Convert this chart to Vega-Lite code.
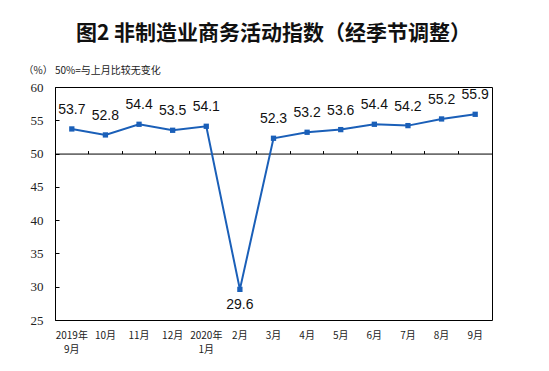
{
  "$schema": "https://vega.github.io/schema/vega-lite/v6.json",
  "width": 437,
  "height": 233,
  "autosize": "none",
  "padding": {"left": 55, "top": 87, "right": 57, "bottom": 51},
  "background": "white",
  "title": {
    "text": "图2  非制造业商务活动指数（经季节调整）",
    "font": "Noto Sans CJK SC",
    "fontSize": 21,
    "fontWeight": "bold",
    "color": "#111111",
    "anchor": "middle",
    "offset": 21
  },
  "config": {
    "view": {"stroke": "#000000", "strokeWidth": 1},
    "axis": {"grid": false},
    "axisY": {"labelOverlap": false, "labelFlush": false, "labelBound": false}
  },
  "data": {
    "values": [
      {"month": "2019年|9月", "v": 53.7},
      {"month": "10月", "v": 52.8},
      {"month": "11月", "v": 54.4},
      {"month": "12月", "v": 53.5},
      {"month": "2020年|1月", "v": 54.1},
      {"month": "2月", "v": 29.6},
      {"month": "3月", "v": 52.3},
      {"month": "4月", "v": 53.2},
      {"month": "5月", "v": 53.6},
      {"month": "6月", "v": 54.4},
      {"month": "7月", "v": 54.2},
      {"month": "8月", "v": 55.2},
      {"month": "9月", "v": 55.9}
    ]
  },
  "encoding": {
    "y": {"field": "v", "type": "quantitative",
      "scale": {"domain": [25, 60], "nice": false, "zero": false},
      "axis": {"values": [25, 30, 35, 40, 45, 50, 55, 60], "domain": true, "domainColor": "#000000",
        "tickSize": -4, "tickColor": "#000000", "labelPadding": 16, "labelOverlap": false,
        "labelFont": "Liberation Serif", "labelFontSize": 13, "labelColor": "#222222",
        "title": "（%）       50%=与上月比较无变化", "titleAngle": 0, "titleAlign": "left",
        "titleBaseline": "middle", "titleX": -32, "titleY": -17,
        "titleFont": "Noto Sans CJK SC", "titleFontSize": 10, "titleFontWeight": "normal", "titleColor": "#222222"}}
  },
  "resolve": {"axis": {"x": "independent"}},
  "layer": [
    {
      "mark": {"type": "line", "color": "#1a5fb8", "strokeWidth": 2,
        "point": {"shape": "square", "size": 28, "filled": true, "color": "#1a5fb8"}},
      "encoding": {
        "x": {"field": "month", "type": "ordinal", "sort": null, "bandPosition": 0.5,
          "scale": {"type": "band", "paddingInner": 0, "paddingOuter": 0},
          "axis": {"title": null, "domain": false, "ticks": false, "labelAngle": 0,
            "labelExpr": "split(datum.value, '|')", "labelFont": "Noto Sans CJK SC",
            "labelFontSize": 10, "labelColor": "#222222", "labelPadding": 10, "labelLineHeight": 14,
            "labelBaseline": "top", "bandPosition": 0.5}}
      }
    },
    {
      "transform": [{"filter": "datum.v > 40"}],
      "mark": {"type": "text", "dy": -19, "font": "Liberation Sans", "fontSize": 14, "color": "#111111", "baseline": "middle"},
      "encoding": {
        "x": {"field": "month", "type": "ordinal", "sort": null, "bandPosition": 0.5,
          "axis": {"orient": "top", "offset": -66.57, "title": null, "labels": false,
            "domain": true, "domainColor": "#000000", "ticks": true, "tickSize": 3,
            "tickColor": "#000000", "bandPosition": 0}},
        "text": {"field": "v", "type": "quantitative", "format": ".1f"}
      }
    },
    {
      "transform": [{"filter": "datum.v < 40"}],
      "mark": {"type": "text", "dy": 16, "font": "Liberation Sans", "fontSize": 14, "color": "#111111", "baseline": "middle"},
      "encoding": {
        "x": {"field": "month", "type": "ordinal", "sort": null, "bandPosition": 0.5, "axis": null},
        "text": {"field": "v", "type": "quantitative", "format": ".1f"}
      }
    }
  ]
}
